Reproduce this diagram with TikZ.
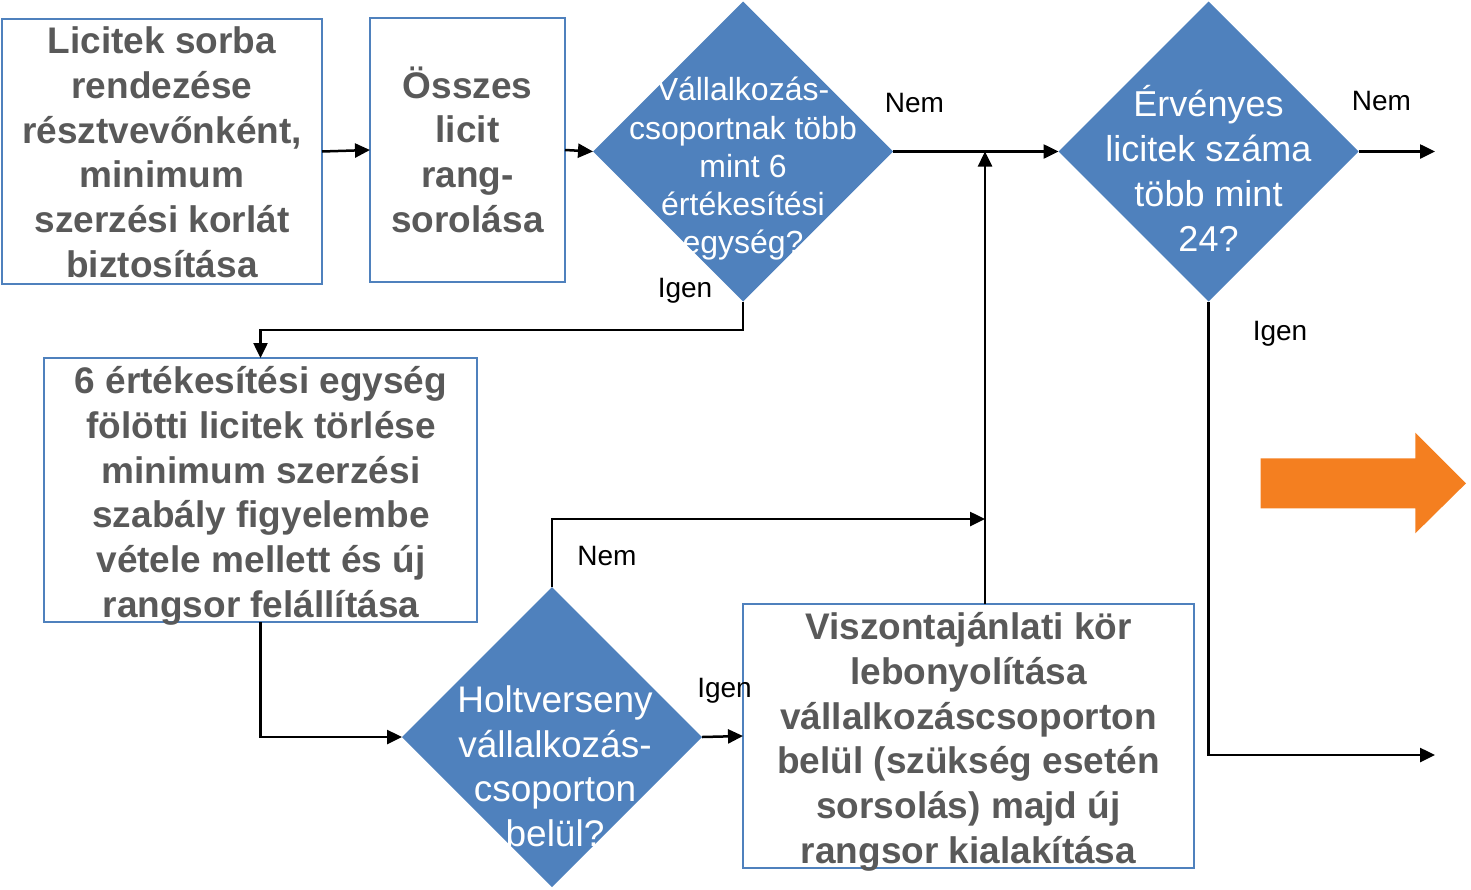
\documentclass[tikz,border=0pt]{standalone}
\usepackage{fontspec}
\setmainfont{Liberation Sans}
\usetikzlibrary{shapes.geometric,arrows.meta}
\definecolor{dblue}{HTML}{4F81BD}
\definecolor{tgrey}{HTML}{595959}
\definecolor{orng}{HTML}{F47F20}
\newcommand\hstrut[1]{\rule{0pt}{#1pt}}
\begin{document}
\begin{tikzpicture}[x=1pt,y=-1pt,
  box/.style={draw=dblue,line width=2pt,inner sep=0pt,outer sep=0pt},
  btext/.style={anchor=north,inner sep=0pt,align=center,text=tgrey,
    font=\fontsize{37}{44.7}\selectfont\bfseries},
  dia/.style={diamond,fill=dblue,inner sep=0pt,outer sep=0pt,minimum width=300pt,minimum height=300pt},
  dtext/.style={anchor=north,inner sep=0pt,align=center,text=white},
  lbl/.style={anchor=base,inner sep=0pt,font=\fontsize{28}{30}\selectfont},
  arr/.style={line width=2.5pt,-{Triangle[length=15pt,width=14pt]}},
  ln/.style={line width=2.5pt}]
\useasboundingbox (0,0) rectangle (1471,889);

% boxes
\node[box,minimum width=320pt,minimum height=265pt] (b1) at (162,151.5) {};
\node[box,minimum width=195pt,minimum height=264pt] (b2) at (467.5,150) {};
\node[box,minimum width=433pt,minimum height=264pt] (b3) at (260.5,490) {};
\node[box,minimum width=451pt,minimum height=264pt] (b4) at (968.5,736) {};

% diamonds
\node[dia] (d1) at (743,151.5) {};
\node[dia] (d2) at (1208.5,151.5) {};
\node[dia] (d3) at (552,737) {};

% texts
\node[btext] (b1t) at (162,16.5) {\hstrut{37}Licitek sorba\\rendezése\\résztvevőnként,\\minimum\\szerzési korlát\\biztosítása};
\node[btext] (b2t) at (467.5,61) {\hstrut{37}Összes\\licit\\rang-\\sorolása};
\node[btext] (b3t) at (261,356.5) {\hstrut{37}6 értékesítési egység\\fölötti licitek törlése\\minimum szerzési\\szabály figyelembe\\vétele mellett és új\\rangsor felállítása};
\node[btext] (b4t) at (968.5,602.5) {\hstrut{37}Viszontajánlati kör\\lebonyolítása\\vállalkozáscsoporton\\belül (szükség esetén\\sorsolás) majd új\\rangsor kialakítása};
\node[dtext,font=\fontsize{32}{38.3}\selectfont] (d1t) at (743,68.5) {\hstrut{32}Vállalkozás-\\csoportnak több\\mint 6\\értékesítési\\egység?};
\node[dtext,font=\fontsize{36}{45}\selectfont] (d2t) at (1208.5,80.7) {\hstrut{36}Érvényes\\licitek száma\\több mint\\24?};
\node[dtext,font=\fontsize{37}{44.5}\selectfont] (d3t) at (555,675.5) {\hstrut{37}Holtverseny\\vállalkozás-\\csoporton\\belül?};

% labels
\node[lbl] (n1) at (914.5,112.7) {Nem};
\node[lbl] (n2) at (1381.5,110) {Nem};
\node[lbl] (i1) at (685,297) {Igen};
\node[lbl] (i2) at (1280,340) {Igen};
\node[lbl] (n3) at (607,565) {Nem};
\node[lbl] (i3) at (724.5,697) {Igen};

% junction / free ends
\coordinate (m1) at (985,151.5);
\coordinate (m2) at (985,519);
\coordinate (o1) at (1435,151.5);
\coordinate (o2) at (1435,755);
\coordinate (k1) at (743,330);

% connectors
\draw[arr] (b1.east) -- (b2.west);
\draw[arr] (b2.east) -- (d1.west);
\draw[arr] (d1.east) -- (d2.west);
\draw[arr] (d2.east) -- (o1);
\draw[arr] (d1.south) -- (k1) -| (b3.north);
\draw[arr] (b3.south) |- (d3.west);
\draw[arr] (d3.east) -- (b4.west);
\draw[arr] (d3.north) |- (m2);
\draw[arr] (b4.north -| m1) -- (m1);
\draw[arr] (d2.south) |- (o2);

% orange arrow
\fill[orng] (1260.7,458.3) -- (1415.3,458.3) -- (1415.3,432.7) -- (1466,483.3)
  -- (1415.3,533.3) -- (1415.3,508.3) -- (1260.7,508.3) -- cycle;
\end{tikzpicture}
\end{document}
